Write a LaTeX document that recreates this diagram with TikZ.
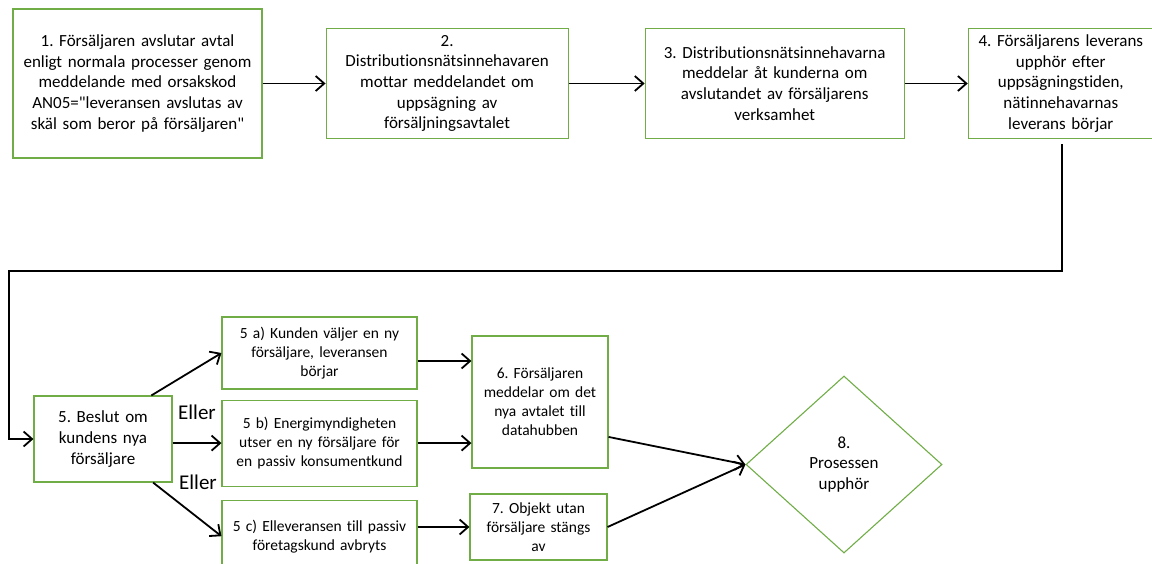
\documentclass[tikz,border=0pt]{standalone}
\usepackage{fontspec}
\setmainfont{Carlito}[Ligatures={TeXOff,CommonOff}]
\frenchspacing
\usetikzlibrary{arrows.meta,positioning,shapes.geometric}
\definecolor{boxgreen}{HTML}{70AD47}

\begin{document}
\begin{tikzpicture}[x=1pt,y=-1pt,node distance=63pt,
every node/.style={font=\fontsize{17}{20.7}\selectfont},
box/.style={draw=boxgreen,line width=1.1pt,inner xsep=4pt,inner ysep=0pt,align=center},
small/.style={font=\fontsize{15.5}{19}\selectfont},
choice/.style={draw=boxgreen,line width=1.1pt,diamond,inner sep=0pt,align=center,
minimum width=196pt,minimum height=177pt},
lbl/.style={font=\fontsize{21}{24}\selectfont},
arr/.style={-{Straight Barb[length=8.5pt,width=15pt]},line width=1.8pt}]
\useasboundingbox (0,0) rectangle (1152,563);
% top row
\node[box,text width=241pt,minimum height=149pt] (a) at (137.5,83.5) {1. Försäljaren avslutar avtal\\enligt normala processer genom\\meddelande med orsakskod\\AN05="leveransen avslutas av\\skäl som beror på försäljaren"};
\node[box,text width=234pt,minimum height=110pt,right=of a] (b) {2.\\Distributionsnätsinnehavaren\\mottar meddelandet om\\uppsägning av\\försäljningsavtalet};
\node[box,text width=251pt,minimum height=110pt,right=76pt of b] (c) {3. Distributionsnätsinnehavarna\\meddelar åt kunderna om\\avslutandet av försäljarens\\verksamhet};
\node[box,text width=177pt,minimum height=110pt,right=of c] (d) {4. Försäljarens leverans\\upphör efter\\uppsägningstiden,\\nätinnehavarnas\\leverans börjar};
% decision and its branches
\node[box,text width=130pt,minimum height=86pt] (e) at (103,439) {5. Beslut om\\kundens nya\\försäljare};
\node[box,small,text width=187pt,minimum height=72pt] (fa) at (319.5,353) {5 a) Kunden väljer en ny\\försäljare, leveransen\\börjar};
\node[box,small,text width=187pt,minimum height=86pt,below=10pt of fa] (fb) {5 b) Energimyndigheten\\utser en ny försäljare för\\en passiv konsumentkund};
\node[box,small,text width=187pt,minimum height=72pt,below=13pt of fb] (fc) {5 c) Elleveransen till passiv\\företagskund avbryts};
\node[box,small,text width=128pt,minimum height=132pt] (f) at (540,402) {6. Försäljaren\\meddelar om det\\nya avtalet till\\datahubben};
\node[box,small,text width=129pt,minimum height=66pt] (g) at (538.5,527) {7. Objekt utan\\försäljare stängs\\av};
\node[choice] (h) at (844,464.5) {8.\\Prosessen\\upphör};
\node[lbl] (or1) at (197,412) {Eller};
\node[lbl] (or2) at (198,482) {Eller};
% connectors
\draw[arr] (a)--(b);\draw[arr] (b)--(c);\draw[arr] (c)--(d);
\coordinate (turnR) at (1062,271);\coordinate (turnL) at (9,271);
\draw[arr,shorten <=5pt] (d.south -| turnR)--(turnR)--(turnL)|-(e.west);
\draw[arr] (e.42)--(fa.west);\draw[arr] (e.east|-fb.west)--(fb.west);\draw[arr] (e.-41)--(fc.west);
\coordinate (faout) at ([yshift=-8pt]fa.east);
\draw[arr] (faout)--(faout-|f.west);\draw[arr] (fb.east)--(fb.east-|f.west);\draw[arr] (g.west-|fc.east)--(g.west);
\draw[arr] (f.-27)--(h.west);\draw[arr] (g.east)--(h.west);
\end{tikzpicture}
\end{document}
